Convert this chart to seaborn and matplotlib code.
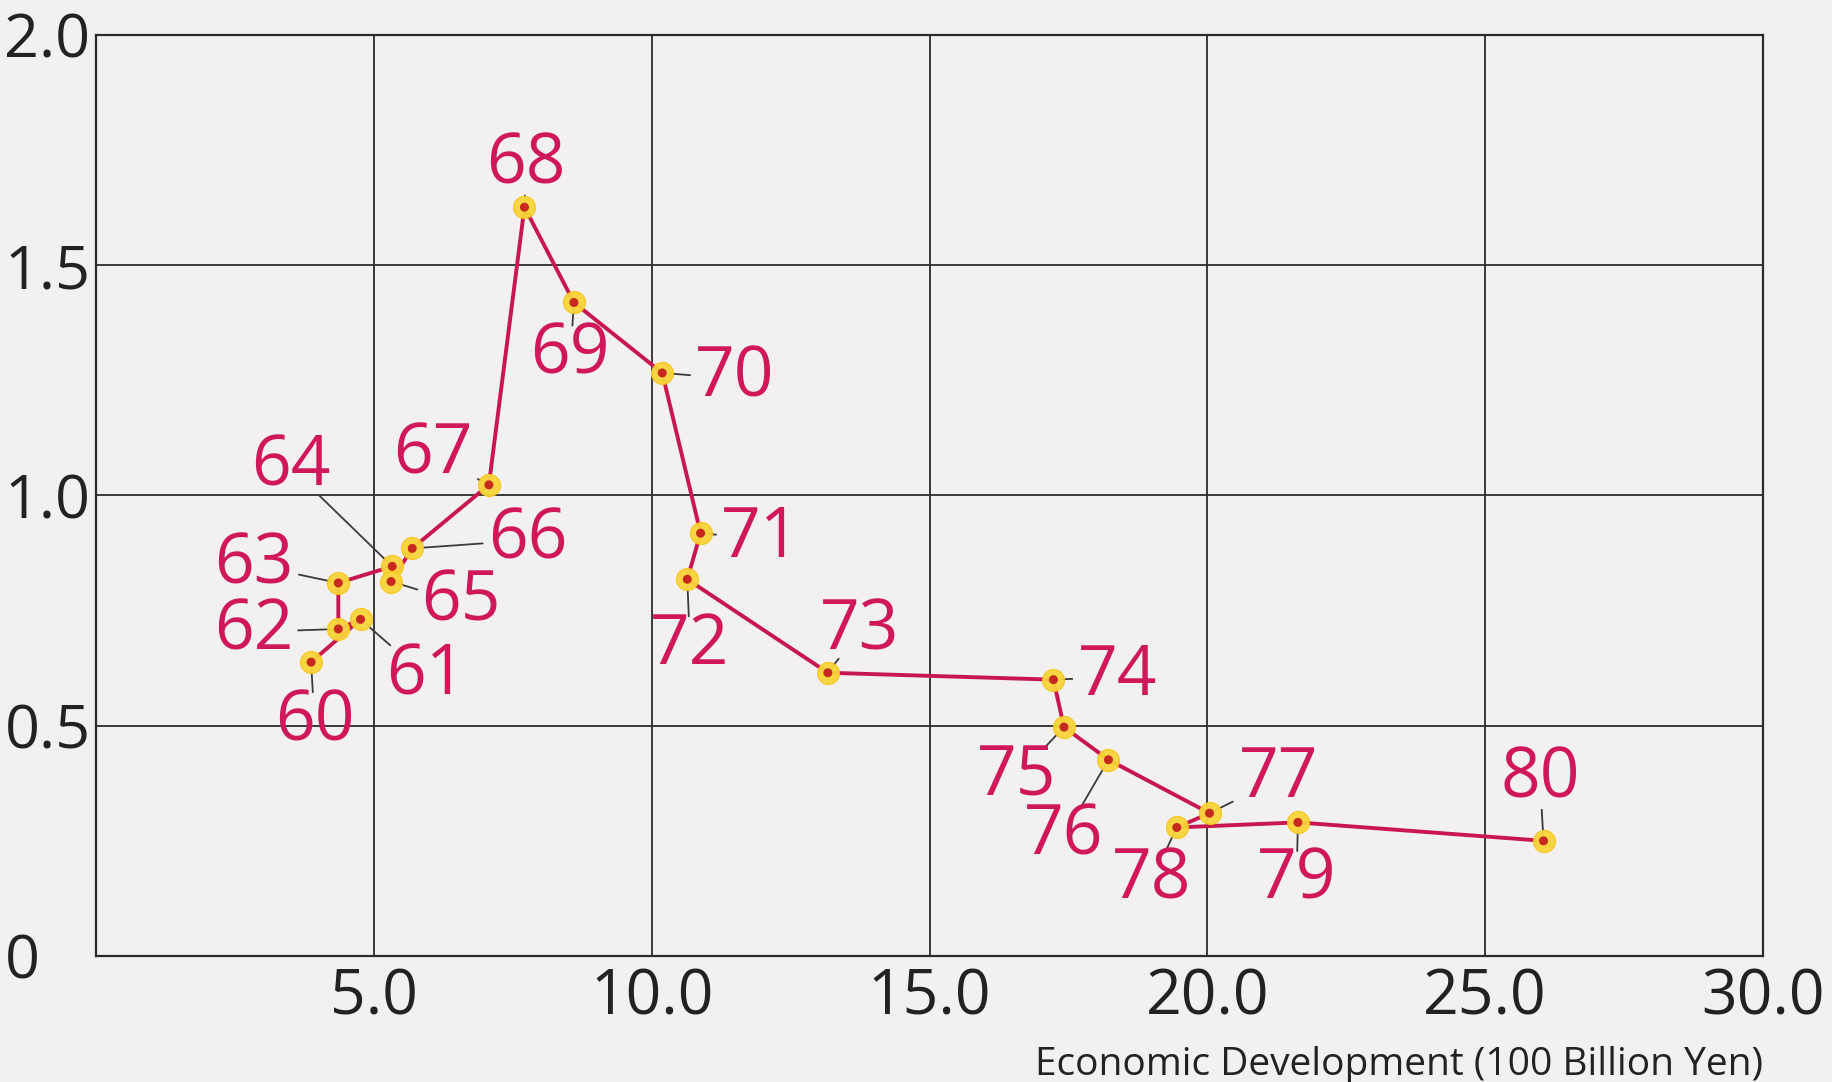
import math
import matplotlib
matplotlib.use("Agg")
import matplotlib.pyplot as plt
import seaborn as sns
import pandas as pd

# ---- data ----
year_labels = ["60", "61", "62", "63", "64", "65", "66", "67", "68", "69", "70",
               "71", "72", "73", "74", "75", "76", "77", "78", "79", "80"]
econ_dev = [3.87, 4.76, 4.36, 4.36, 5.33, 5.31, 5.69, 7.07, 7.71, 8.60, 10.19,
            10.88, 10.64, 13.17, 17.23, 17.42, 18.22, 20.04, 19.45, 21.63, 26.05]
ratio = [0.638, 0.731, 0.710, 0.810, 0.846, 0.813, 0.885, 1.023, 1.626, 1.419, 1.266,
         0.918, 0.818, 0.615, 0.600, 0.497, 0.426, 0.310, 0.279, 0.290, 0.250]
x_ticks = [5, 10, 15, 20, 25, 30]
x_tick_labels = ["5.0", "10.0", "15.0", "20.0", "25.0", "30.0"]
y_ticks = [0, 0.5, 1.0, 1.5, 2.0]
y_tick_labels = ["0", "0.5", "1.0", "1.5", "2.0"]
x_title = "Economic Development (100 Billion Yen)"

# label offsets (points) relative to each point -- layout only
label_offsets = {
    "60": (2.5, -37), "61": (47, -35), "62": (-61, 4), "63": (-61, 19),
    "64": (-73, 77), "65": (50, -9), "66": (83, 12), "67": (-40, 27),
    "68": (1, 36), "69": (-2.5, -32), "70": (52, 2), "71": (43, 2),
    "72": (2, -42), "73": (23, 36), "74": (46, 8), "75": (-34, -30),
    "76": (-32, -49), "77": (50, 31), "78": (-18, -32), "79": (-1, -36),
    "80": (-2.5, 50),
}

df = pd.DataFrame({"year": year_labels, "econ": econ_dev, "ratio": ratio})

PAPER = "#F3F0F1"
RED = "#D0175A"
LINE = "#C8174F"
DARK = "#2B2B2B"
LABEL_SIZE = 50

sns.set_theme(style="white")
plt.rcParams["font.family"] = ["Open Sans", "DejaVu Sans"]

fig = plt.figure(figsize=(18.33, 10.82), dpi=100, facecolor=PAPER)
ax = fig.add_axes([0.0524, 0.1165, 0.9094, 0.8512])
ax.set_facecolor(PAPER)

sns.lineplot(data=df, x="econ", y="ratio", sort=False, estimator=None,
             color=LINE, linewidth=2.8, ax=ax, zorder=3)

half_w = 0.58 * LABEL_SIZE   # half width of a two-digit label (pt)
half_h = 0.37 * LABEL_SIZE   # half height of digits (pt)
for lab, xv, yv in zip(year_labels, econ_dev, ratio):
    dx, dy = label_offsets[lab]
    ang = math.atan2(dy, dx)
    c, s = abs(math.cos(ang)), abs(math.sin(ang))
    edge = min(half_w / c if c > 1e-6 else 1e9, half_h / s if s > 1e-6 else 1e9)
    ax.annotate(lab, xy=(xv, yv), xytext=(dx, dy), textcoords="offset points",
                ha="center", va="center_baseline", fontsize=LABEL_SIZE, color=RED,
                arrowprops=dict(arrowstyle="-", color="#3A3A3A", lw=1.3,
                                patchA=None, relpos=(0.5, 0.5),
                                shrinkA=edge + 3, shrinkB=5),
                zorder=4)

sns.scatterplot(data=df, x="econ", y="ratio", s=250, color="#F9D53A",
                edgecolor="#F5C518", linewidth=0.8, ax=ax, zorder=5, alpha=0.95)
sns.scatterplot(data=df, x="econ", y="ratio", s=42, color="#C62A1E",
                edgecolor="none", ax=ax, zorder=6)

ax.set_xlim(0, 30)
ax.set_ylim(0, 2.0)
ax.set_xticks(x_ticks)
ax.set_xticklabels(x_tick_labels)
ax.set_yticks(y_ticks)
ax.set_yticklabels(y_tick_labels)
ax.grid(True, color=DARK, linewidth=1.3)
ax.set_axisbelow(True)
for sp in ax.spines.values():
    sp.set_visible(True)
    sp.set_color(DARK)
    sp.set_linewidth(1.6)

ax.tick_params(axis="x", length=0, pad=8, labelsize=45, labelcolor="#222222")
ax.tick_params(axis="y", length=0, pad=66, labelsize=44, labelcolor="#222222")
for t in ax.get_yticklabels():
    t.set_horizontalalignment("left")

ax.set_xlabel(x_title, loc="right", fontsize=28, color="#222222", labelpad=12)
ax.set_ylabel("")

fig.savefig("out.png", dpi=100, facecolor=PAPER)
